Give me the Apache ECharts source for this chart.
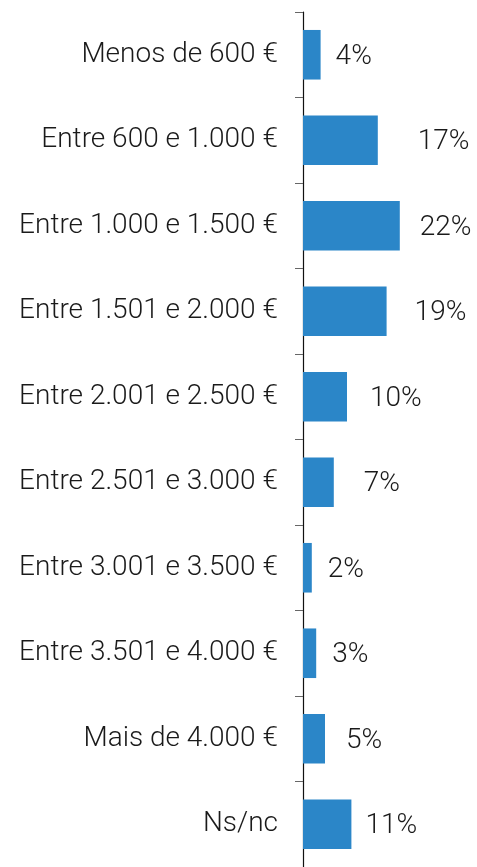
<!DOCTYPE html>
<html>
<head>
<meta charset="utf-8">
<script src="https://cdn.jsdelivr.net/npm/echarts@6/dist/echarts.min.js"></script>
<style>
  html, body { margin: 0; padding: 0; background: #fff; }
  #chart { width: 477px; height: 867px; }
</style>
</head>
<body>
<div id="chart"></div>
<script>
// faixas de rendimento, de cima para baixo
var categories = ['Menos de 600 €', 'Entre 600 e 1.000 €', 'Entre 1.000 e 1.500 €', 'Entre 1.501 e 2.000 €',
    'Entre 2.001 e 2.500 €', 'Entre 2.501 e 3.000 €', 'Entre 3.001 e 3.500 €', 'Entre 3.501 e 4.000 €',
    'Mais de 4.000 €', 'Ns/nc'];
var values = [4, 17, 22, 19, 10, 7, 2, 3, 5, 11];
// distancia da etiqueta ao fim da barra (px), como no original
var labelGaps = [15, 40, 20, 28, 23, 30, 16, 16, 21, 14];

var chart = echarts.init(document.getElementById('chart'));
var option = {
    animation: false,
    grid: { left: 303, right: 64, top: 12, height: 860, containLabel: false },
    xAxis: {
        type: 'value',
        min: 0,
        max: 25,
        show: false
    },
    yAxis: {
        type: 'category',
        inverse: true,
        data: categories,
        axisLine: { show: true, lineStyle: { color: '#111', width: 1.2 } },
        axisTick: { show: true, length: 8, lineStyle: { color: '#666', width: 1 } },
        axisLabel: {
            margin: 25,
            padding: [4, 0, 0, 0],
            color: '#1a1a1a',
            fontSize: 28,
            fontWeight: 300,
            fontFamily: 'Roboto'
        }
    },
    series: [{
        type: 'bar',
        barCategoryGap: '42%',
        itemStyle: { color: '#2b86c8' },
        data: values.map(function (v, i) {
            return {
                value: v,
                label: { offset: [labelGaps[i], 2] }
            };
        }),
        label: {
            show: true,
            position: 'right',
            distance: 0,
            formatter: '{c}%',
            color: '#1a1a1a',
            fontSize: 28,
            fontWeight: 300,
            fontFamily: 'Roboto'
        }
    }]
};
chart.setOption(option);
window.onresize = function () { chart.resize(); };
</script>
</body>
</html>
